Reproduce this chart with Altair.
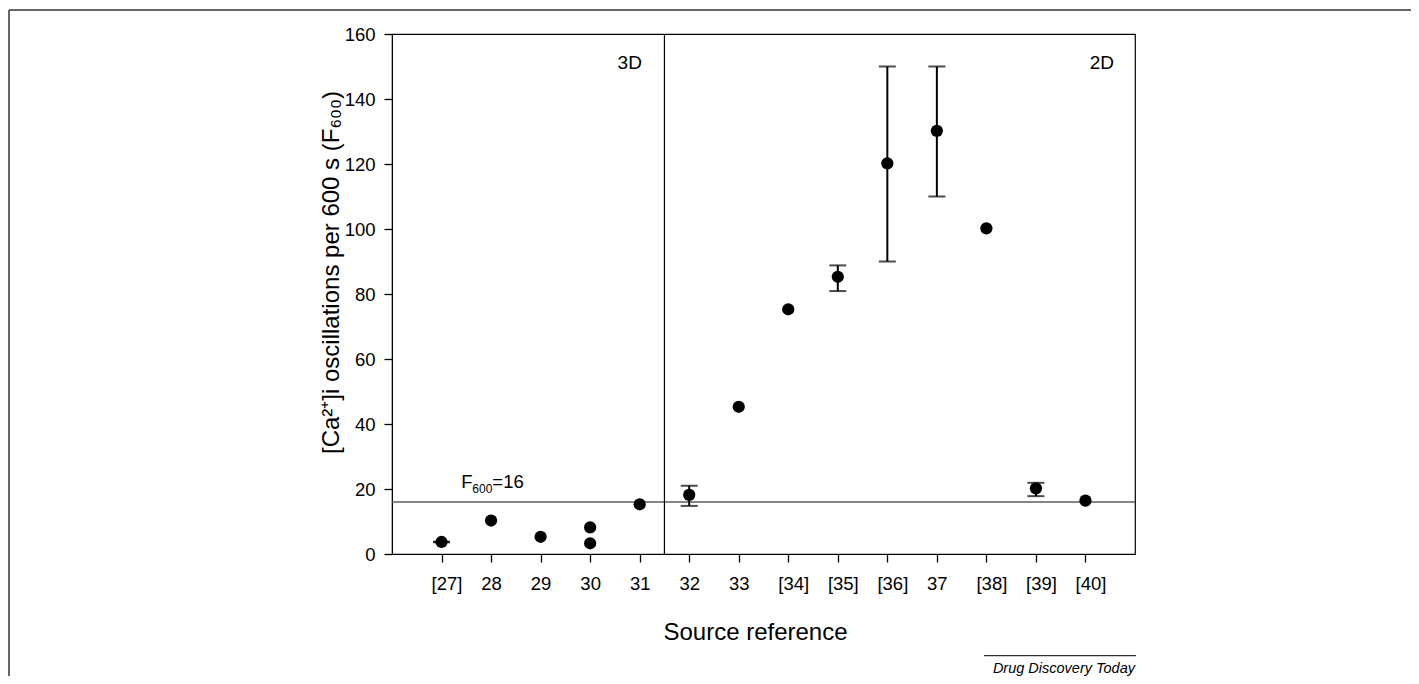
import altair as alt
import pandas as pd

# ---- data ----
tick_pos = list(range(1, 15))
tick_labels = ["[27]", "28", "29", "30", "31", "32", "33", "[34]", "[35]",
               "[36]", "37", "[38]", "[39]", "[40]"]

point_pos = [1, 2, 3, 4, 4, 5, 6, 7, 8, 9, 10, 11, 12, 13, 14]
point_val = [3.7, 10.3, 5.3, 8.2, 3.3, 15.3, 18.2, 45.3, 75.3, 85.3,
             120.2, 130.2, 100.2, 20.2, 16.4]

err_pos = [1, 6, 9, 10, 11, 13]
err_lo = [3.6, 14.8, 80.9, 90.0, 110.0, 17.8]
err_hi = [3.8, 21.0, 88.8, 150.0, 150.0, 21.9]

threshold = [16]
divider = [5.5]

region_labels = ["3D", "2D"]
region_x = [4.8, 14.33]
region_y = [149.2, 149.2]

FONT = "Liberation Sans"
W, H = 743, 520

pts = pd.DataFrame({"pos": point_pos, "val": point_val})
errs = pd.DataFrame({"pos": err_pos, "lo": err_lo, "hi": err_hi})
regions = pd.DataFrame({"label": region_labels, "x": region_x, "y": region_y})

xs = alt.Scale(domain=[0, 15], nice=False, zero=False)
ys = alt.Scale(domain=[0, 160], nice=False)

label_arr = "[" + ",".join("'" + t + "'" for t in tick_labels) + "]"
bracket_test = " || ".join(
    f"datum.value == {p}" for p, t in zip(tick_pos, tick_labels) if t.startswith("["))

x_axis = alt.Axis(
    values=tick_pos, labelExpr=f"{label_arr}[datum.value - 1]",
    title="Source reference", titleFontSize=24, titleFont=FONT,
    titleFontWeight="normal", titleX=363, titleY=85, titleBaseline="alphabetic",
    titleAlign="center",
    labelFontSize=18.5, labelFont=FONT, labelPadding=12,
    labelOffset={"condition": {"test": bracket_test, "value": 5}, "value": 0},
    tickSize=8, tickColor="black", tickWidth=1.3, domainColor="black", grid=False,
    labelColor="black", titleColor="black", labelFlush=False,
)
y_axis = alt.Axis(
    values=list(range(0, 161, 20)),
    title="[Ca²⁺]i oscillations per 600 s (F₆₀₀)",
    titleFontSize=24, titleFont=FONT, titleFontWeight="normal",
    titleX=-61, titleY=238, titleAngle=270, titleAlign="center",
    titleBaseline="middle",
    labelFontSize=18.5, labelFont=FONT, labelPadding=9,
    tickSize=8, tickColor="black", tickWidth=1.3, domainColor="black", grid=False,
    labelColor="black", titleColor="black",
)

base_pts = alt.Chart(pts)

points = base_pts.mark_point(filled=True, color="black", opacity=1, size=150).encode(
    x=alt.X("pos:Q", scale=xs, axis=x_axis),
    y=alt.Y("val:Q", scale=ys, axis=y_axis),
)

err_rule = alt.Chart(errs).mark_rule(color="black", strokeWidth=2).encode(
    x="pos:Q", y="lo:Q", y2="hi:Q")
cap_lo = alt.Chart(errs).mark_tick(color="black", thickness=2, size=17,
                                   orient="horizontal").encode(x="pos:Q", y="lo:Q")
cap_hi = alt.Chart(errs).mark_tick(color="black", thickness=2, size=17,
                                   orient="horizontal").encode(x="pos:Q", y="hi:Q")

hline = alt.Chart(pd.DataFrame({"t": threshold})).mark_rule(
    color="#5e5e5e", strokeWidth=1.6).encode(y="t:Q")
vline = alt.Chart(pd.DataFrame({"d": divider})).mark_rule(
    color="black", strokeWidth=1.2).encode(x="d:Q")

region_text = alt.Chart(regions).mark_text(
    font=FONT, fontSize=19, color="black", align="center", baseline="alphabetic"
).encode(x="x:Q", y="y:Q", text="label:N")

ann = pd.DataFrame({"x": [1.4], "y": [20.3]})
f_main = alt.Chart(ann).mark_text(font=FONT, fontSize=18.5, align="left",
                                  baseline="alphabetic", color="black", text="F"
                                  ).encode(x="x:Q", y="y:Q")
f_sub = alt.Chart(ann).mark_text(font=FONT, fontSize=12, align="left",
                                 baseline="alphabetic", color="black", text="600",
                                 dx=11, dy=5).encode(x="x:Q", y="y:Q")
f_eq = alt.Chart(ann).mark_text(font=FONT, fontSize=18.5, align="left",
                                baseline="alphabetic", color="black", text="=16",
                                dx=31).encode(x="x:Q", y="y:Q")

# decorative page frame and credit
frame_top = alt.Chart(ann).mark_rule(color="#333333", strokeWidth=1.5).encode(
    x=alt.value(-383), x2=alt.value(1100), y=alt.value(-24))
frame_left = alt.Chart(ann).mark_rule(color="#333333", strokeWidth=1.5).encode(
    x=alt.value(-383), y=alt.value(-24), y2=alt.value(700))
credit_line = alt.Chart(ann).mark_rule(color="black", strokeWidth=1).encode(
    x=alt.value(592), x2=alt.value(744), y=alt.value(621.7))
credit = alt.Chart(ann).mark_text(font=FONT, fontSize=14.5, fontStyle="italic",
                                  align="right", baseline="alphabetic",
                                  color="black", text="Drug Discovery Today"
                                  ).encode(x=alt.value(743), y=alt.value(638.5))

chart = alt.layer(
    hline, vline, err_rule, cap_lo, cap_hi, points, region_text,
    f_main, f_sub, f_eq, frame_top, frame_left, credit_line, credit,
).properties(
    width=W, height=H,
    autosize=alt.AutoSizeParams(type="none"),
    padding={"left": 384, "top": 26, "right": 276, "bottom": 122},
    background="white",
).configure_view(stroke="black", strokeWidth=1.2)

chart.save("out.html", embed_options={"renderer": "svg", "actions": False})
